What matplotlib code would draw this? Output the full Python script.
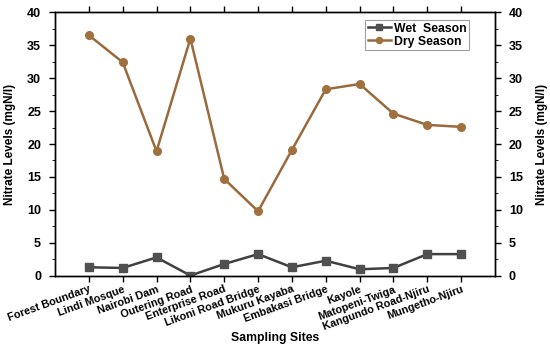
import numpy as np
import matplotlib
matplotlib.use('Agg')
import matplotlib.pyplot as plt
from matplotlib.ticker import MultipleLocator

plt.rcParams['font.family'] = ['Liberation Sans', 'DejaVu Sans']
plt.rcParams['font.weight'] = 'bold'

sites = ['Forest Boundary', 'Lindi Mosque', 'Nairobi Dam', 'Outering Road',
         'Enterprise Road', 'Likoni Road Bridge', 'Mukuru Kayaba', 'Embakasi Bridge',
         'Kayole', 'Matopeni-Twiga', 'Kangundo Road-Njiru', 'Mungetho-Njiru']
wet = [1.3, 1.2, 2.8, 0.05, 1.8, 3.3, 1.3, 2.3, 1.0, 1.2, 3.3, 3.3]
dry = [36.5, 32.4, 18.9, 36.0, 14.7, 9.8, 19.1, 28.3, 29.1, 24.6, 22.9, 22.6]

x = np.arange(1, len(sites) + 1)

fig = plt.figure(figsize=(5.5, 3.47), dpi=100)
ax = fig.add_axes([0.1, 0.205, 0.8, 0.76])

ax.plot(x, wet, color='#404040', lw=1.8, marker='s', ms=5.5,
        mfc='#505050', mec='#505050', label='Wet  Season')
ax.plot(x, dry, color='#9a6a3c', lw=1.8, marker='o', ms=5.5,
        mfc='#a0703e', mec='#a0703e', label='Dry Season')

ax.set_xlim(0, 13)
ax.set_ylim(0, 40)
ax.set_xticks(x)
ax.set_xticklabels(sites, rotation=20, ha='right', rotation_mode='anchor')
ax.yaxis.set_major_locator(MultipleLocator(5))
ax.yaxis.set_minor_locator(MultipleLocator(2.5))
ax.tick_params(axis='both', direction='out', width=1, length=4)
ax.tick_params(axis='y', labelsize=9, pad=6)
ax.tick_params(axis='x', top=True, labelsize=7.8, pad=2)
ax.tick_params(axis='y', which='minor', length=2.5)
ax.set_ylabel('Nitrate Levels (mgN/l)', fontsize=8.5, fontweight='bold', labelpad=8)
ax.set_xlabel('Sampling Sites', fontsize=8.8, fontweight='bold', labelpad=0)

ax2 = ax.twinx()
ax2.set_ylim(0, 40)
ax2.yaxis.set_major_locator(MultipleLocator(5))
ax2.yaxis.set_minor_locator(MultipleLocator(2.5))
ax2.tick_params(axis='y', direction='out', labelsize=9, width=1, length=4, pad=6)
ax2.tick_params(axis='y', which='minor', length=2.5)
ax2.set_ylabel('Nitrate Levels (mgN/l)', fontsize=8.5, fontweight='bold', labelpad=9)

for a in (ax, ax2):
    for s in a.spines.values():
        s.set_linewidth(1)

leg = ax.legend(loc='upper right', bbox_to_anchor=(0.94, 0.97), fontsize=8.8,
                frameon=True, fancybox=False, edgecolor='#888888',
                handlelength=1.9, borderpad=0.2, labelspacing=0.1,
                handletextpad=0.2, borderaxespad=0, markerscale=0.8)
leg.get_frame().set_linewidth(0.8)

fig.savefig('out.png', dpi=100)
